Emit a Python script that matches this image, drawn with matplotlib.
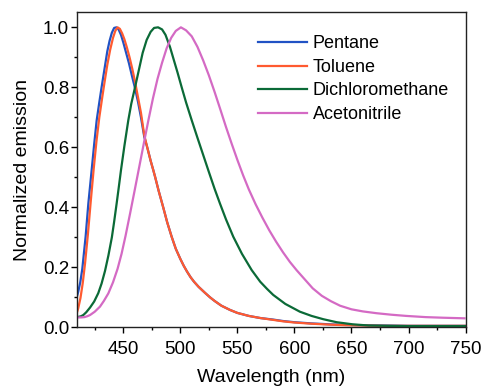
import numpy as np
import matplotlib
matplotlib.use("Agg")
import matplotlib.pyplot as plt
from matplotlib.ticker import MultipleLocator, FormatStrFormatter

plt.rcParams['font.family'] = ['Liberation Sans', 'DejaVu Sans']

## VALUES
pentane_wl_ = [409.2, 410.5, 412.3, 414.1, 417, 419.4, 422.3, 424.5, 426.7, 429, 431, 433.5, 436, 438, 440, 442,
               444, 446, 448, 450, 452.5, 455, 457.5, 460.3, 463, 465.5, 468.4, 471, 474, 476.3, 478, 481, 485,
               488.5, 492.4, 496, 500, 503, 506, 509, 512, 516, 521.6, 526, 530, 536, 543.5, 550, 560, 570, 581,
               590, 600, 615, 631, 645, 660, 680, 700, 725, 750]
pentane_em_ = [0.100, 0.118, 0.150, 0.195, 0.302, 0.413, 0.524, 0.610, 0.690, 0.750, 0.800, 0.860, 0.920, 0.955,
               0.982, 0.998, 1.000, 0.992, 0.975, 0.950, 0.915, 0.880, 0.840, 0.797, 0.750, 0.700, 0.635, 0.600,
               0.555, 0.524, 0.500, 0.455, 0.400, 0.350, 0.302, 0.262, 0.228, 0.205, 0.185, 0.167, 0.152, 0.135,
               0.115, 0.100, 0.088, 0.072, 0.058, 0.048, 0.038, 0.031, 0.026, 0.021, 0.017, 0.013, 0.010, 0.008,
               0.007, 0.006, 0.005, 0.005, 0.005]

toluene_wl_ = [409.2, 410.5, 412.5, 414.5, 416.5, 419, 421.5, 424, 426.5, 429, 431.5, 433.5, 436, 438.5, 441,
               443, 445, 447, 449, 451, 453, 455.5, 458, 460.5, 463, 465.5, 468.4, 471, 474, 476.3, 478, 481,
               485, 488.5, 492.4, 496, 500, 503, 506, 509, 512, 516, 521.6, 526, 530, 536, 543.5, 550, 560, 570,
               581, 590, 600, 615, 631, 645, 660, 680, 700, 725, 750]
toluene_em_ = [0.047, 0.063, 0.098, 0.148, 0.213, 0.310, 0.420, 0.525, 0.620, 0.700, 0.765, 0.815, 0.875, 0.925,
               0.965, 0.988, 1.000, 0.995, 0.980, 0.960, 0.935, 0.900, 0.860, 0.815, 0.765, 0.715, 0.640, 0.600,
               0.555, 0.524, 0.500, 0.455, 0.400, 0.350, 0.302, 0.262, 0.228, 0.205, 0.185, 0.167, 0.152, 0.135,
               0.115, 0.100, 0.088, 0.072, 0.058, 0.048, 0.038, 0.031, 0.025, 0.020, 0.016, 0.012, 0.009, 0.007,
               0.006, 0.005, 0.005, 0.005, 0.005]

dcm_wl_ = [409.2, 411, 413, 415, 417.5, 420.9, 424.5, 428.1, 431, 434, 437, 440, 442, 444.2, 446, 448, 451,
           454.4, 457, 460.3, 463.5, 467, 470.5, 474, 477, 480.5, 484, 487, 490.9, 494, 497.5, 501.2, 505, 510,
           515, 520, 525, 530, 534.7, 540, 546.4, 554, 562.5, 570, 576, 581.4, 592, 604.8, 615, 625.3, 637,
           651, 665, 680, 700, 725, 750]
dcm_em_ = [0.035, 0.035, 0.037, 0.041, 0.050, 0.066, 0.086, 0.114, 0.146, 0.188, 0.240, 0.300, 0.352, 0.413,
           0.465, 0.524, 0.605, 0.690, 0.745, 0.800, 0.855, 0.915, 0.958, 0.985, 0.998, 1.000, 0.993, 0.975,
           0.935, 0.895, 0.850, 0.800, 0.750, 0.690, 0.632, 0.575, 0.518, 0.462, 0.413, 0.360, 0.302, 0.245,
           0.191, 0.152, 0.128, 0.108, 0.078, 0.052, 0.038, 0.027, 0.017, 0.010, 0.006, 0.005, 0.004, 0.004,
           0.004]

acn_wl_ = [409.2, 413, 416, 418.5, 420.9, 425, 429.6, 433, 436.9, 441, 445, 448.5, 452, 456, 460, 464, 468,
           472, 476, 480, 484, 488, 492, 496, 500.5, 505, 510, 515, 520, 525, 530, 535, 540, 545, 550, 555,
           560, 566, 572, 578, 584, 590, 596, 602, 609, 616, 624, 632, 640, 650, 660, 672, 685, 698, 715, 730,
           749]
acn_em_ = [0.033, 0.033, 0.034, 0.037, 0.041, 0.052, 0.069, 0.088, 0.113, 0.150, 0.195, 0.245, 0.305, 0.380,
           0.457, 0.535, 0.613, 0.690, 0.763, 0.828, 0.882, 0.930, 0.965, 0.988, 1.000, 0.990, 0.970, 0.935,
           0.890, 0.840, 0.785, 0.727, 0.668, 0.612, 0.558, 0.507, 0.460, 0.410, 0.365, 0.323, 0.285, 0.250,
           0.218, 0.190, 0.160, 0.130, 0.105, 0.087, 0.072, 0.060, 0.053, 0.047, 0.042, 0.038, 0.034, 0.032,
           0.030]

series_labels_ = ["Pentane", "Toluene", "Dichloromethane", "Acetonitrile"]
series_colors_ = ["#2152c4", "#ff5a30", "#0b6a37", "#d46ac4"]


def plot_emission_spectra_():
    fig_ = plt.figure(figsize=(4.84, 3.88), dpi=100)
    ax_ = fig_.add_axes([0.1585, 0.1564, 0.8035, 0.8126])
    all_series_ = [(pentane_wl_, pentane_em_), (toluene_wl_, toluene_em_),
                   (dcm_wl_, dcm_em_), (acn_wl_, acn_em_)]
    for (wl_, em_), lab_, col_ in zip(all_series_, series_labels_, series_colors_):
        ax_.plot(wl_, em_, color=col_, lw=1.6, label=lab_, solid_joinstyle='round')

    ax_.set_xlim(409.2, 750)
    ax_.set_ylim(0, 1.051)
    ax_.xaxis.set_major_locator(MultipleLocator(50))
    ax_.xaxis.set_minor_locator(MultipleLocator(25))
    ax_.yaxis.set_major_locator(MultipleLocator(0.2))
    ax_.yaxis.set_minor_locator(MultipleLocator(0.1))
    ax_.yaxis.set_major_formatter(FormatStrFormatter('%.1f'))
    ax_.tick_params(which='major', direction='out', length=4, width=1, labelsize=13.5)
    ax_.tick_params(axis='x', which='major', pad=6)
    ax_.tick_params(axis='y', which='major', pad=1.5)
    ax_.tick_params(which='minor', direction='out', length=2.5, width=1)
    for sp_ in ax_.spines.values():
        sp_.set_linewidth(1.0)
        sp_.set_color('#222222')

    ax_.set_xlabel("Wavelength (nm)", fontsize=14, labelpad=8)
    ax_.set_ylabel("Normalized emission", fontsize=14, labelpad=8.5)

    ax_.legend(frameon=False, loc='upper left', bbox_to_anchor=(0.466, 0.926), borderpad=0,
               borderaxespad=0, handlelength=2.7, handletextpad=0.33, labelspacing=0.36, fontsize=13)
    fig_.savefig("out.png", dpi=100)


plot_emission_spectra_()
